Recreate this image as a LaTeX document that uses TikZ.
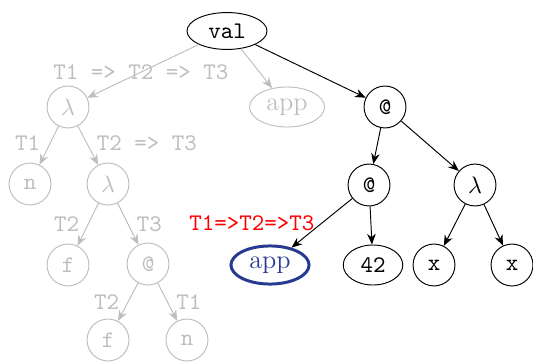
\documentclass[tikz,border=0pt]{standalone}
\usetikzlibrary{arrows.meta,shapes.geometric}
\definecolor{ghost}{RGB}{190,190,190}
\definecolor{navyb}{RGB}{38,58,145}
\begin{document}
\begin{tikzpicture}[x=0.42pt,y=-0.42pt,
  every node/.style={font=\ttfamily},
  arr/.style={-{Stealth[length=4.5pt,width=3.6pt]}},
  cnode/.style={draw,circle,minimum size=17.6pt,inner sep=0pt},
  enode/.style={draw,ellipse,inner sep=0pt},
  ghostn/.style={draw=ghost,text=ghost},
  ghoste/.style={arr,ghost},
  glab/.style={text=ghost,inner sep=1.5pt},
  slab/.style={text=ghost,inner sep=3.5pt},
  romtext/.style={font=\fontsize{11}{13}\selectfont\rmfamily},
]
\useasboundingbox (0,0) rectangle (533,362);
% black tree
\node[enode,minimum width=33.6pt,minimum height=15.5pt] (val) at (227,31) {val};
\node[cnode] (at1) at (385,107) {@};
\node[cnode] (at2) at (369,185) {@};
\node[cnode] (lam) at (475,185) {$\lambda$};
\node[enode,draw=navyb,line width=1.25pt,text=navyb,romtext,minimum width=32.8pt,minimum height=16pt] (app) at (270,265) {app};
\node[enode,minimum width=25pt,minimum height=16.8pt] (n42) at (373,265) {42};
\node[cnode] (x1) at (434,265) {x};
\node[cnode] (x2) at (512,265) {x};
% ghost tree
\node[cnode,ghostn] (glam) at (68,107) {$\lambda$};
\node[enode,ghostn,romtext,minimum width=31.5pt,minimum height=16.8pt] (gapp) at (287,107) {app};
\node[cnode,ghostn] (gn1) at (30,184) {n};
\node[cnode,ghostn] (glam2) at (108,184) {$\lambda$};
\node[cnode,ghostn] (gf1) at (68,265) {f};
\node[cnode,ghostn] (gat) at (148,264) {@};
\node[cnode,ghostn] (gf2) at (108,340) {f};
\node[cnode,ghostn] (gn2) at (187,340) {n};
% edges
\draw[ghoste] (val) -- node[glab,pos=0.52] {T1 => T2 => T3} (glam);
\draw[ghoste] (val) -- (gapp);
\draw[arr] (val) -- (at1);
\draw[arr] (at1) -- (at2);
\draw[arr] (at1) -- (lam);
\draw[arr] (at2) -- node[text=red,pos=0.5,anchor=east,inner sep=3pt] {T1=>T2=>T3} (app);
\draw[arr] (at2) -- (n42);
\draw[arr] (lam) -- (x1);
\draw[arr] (lam) -- (x2);
\draw[ghoste] (glam) -- node[slab,midway,left,yshift=1pt] {T1} (gn1);
\draw[ghoste] (glam) -- node[slab,midway,right,yshift=1pt] {T2 => T3} (glam2);
\draw[ghoste] (glam2) -- node[slab,midway,left] {T2} (gf1);
\draw[ghoste] (glam2) -- node[slab,midway,right] {T3} (gat);
\draw[ghoste] (gat) -- node[slab,midway,left] {T2} (gf2);
\draw[ghoste] (gat) -- node[slab,midway,right] {T1} (gn2);
\end{tikzpicture}
\end{document}
